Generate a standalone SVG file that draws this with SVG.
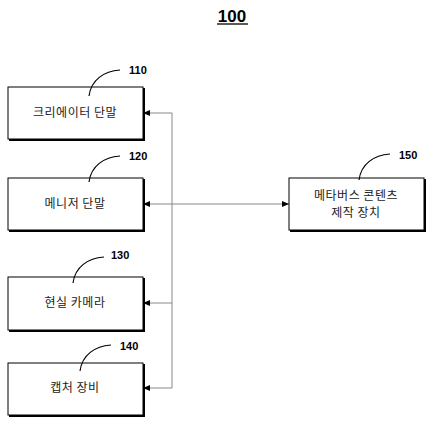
<svg xmlns="http://www.w3.org/2000/svg" width="433" height="425" viewBox="0 0 433 425">
<style>
.box{fill:#fff;stroke:#000;stroke-width:1}
.sh{fill:none;stroke:#000;stroke-width:2}
.t{font-family:"Noto Sans CJK KR","Liberation Serif",serif;font-size:12px;fill:#222;text-anchor:middle;letter-spacing:0.5px}
.n{font-family:"Liberation Sans",Arial,sans-serif;font-weight:bold;font-size:11px;fill:#000}
.ld{fill:none;stroke:#000;stroke-width:1.2}
.c{fill:none;stroke:#888;stroke-width:1}
</style>
<defs>
<marker id="ah" markerWidth="8" markerHeight="6" refX="7" refY="3" orient="auto" markerUnits="userSpaceOnUse">
<path d="M0,0 L7,3 L0,6 Z" fill="#000"/>
</marker>
<marker id="as" markerWidth="8" markerHeight="6" refX="1" refY="3" orient="auto" markerUnits="userSpaceOnUse">
<path d="M8,0 L1,3 L8,6 Z" fill="#000"/>
</marker>
</defs>
<g id="title">
<text x="232" y="22" font-family="Liberation Sans,Arial,sans-serif" font-weight="bold" font-size="17" text-anchor="middle">100</text>
<line x1="217" y1="24" x2="248" y2="24" stroke="#000" stroke-width="1.3"/>
</g>
<g id="connectors">
<polyline class="c" points="143,113 172,113 172,388 143,388" marker-start="url(#as)" marker-end="url(#ah)"/>
<line class="c" x1="172" y1="303" x2="143" y2="303" marker-end="url(#ah)"/>
<line class="c" x1="143" y1="204" x2="289" y2="204" marker-start="url(#as)" marker-end="url(#ah)"/>
</g>
<g id="n110">
<rect class="box" x="8" y="87" width="135" height="52"/>
<polyline class="sh" points="144,88 144,140 9,140"/>
<text class="t" x="75" y="117">크리에이터 단말</text>
<path class="ld" d="M89,96 C91,80 104,71 120,70"/>
<text class="n" x="129" y="74">110</text>
</g>
<g id="n120">
<rect class="box" x="8" y="178" width="135" height="52"/>
<polyline class="sh" points="144,179 144,231 9,231"/>
<text class="t" x="75" y="208">메니저 단말</text>
<path class="ld" d="M89,182 C91,166 104,157 120,156"/>
<text class="n" x="129" y="160">120</text>
</g>
<g id="n130">
<rect class="box" x="8" y="277" width="135" height="53"/>
<polyline class="sh" points="144,278 144,331 9,331"/>
<text class="t" x="75" y="307">현실 카메라</text>
<path class="ld" d="M73,283 C75,267 88,258 104,257"/>
<text class="n" x="111" y="259">130</text>
</g>
<g id="n140">
<rect class="box" x="8" y="363" width="135" height="52"/>
<polyline class="sh" points="144,364 144,416 9,416"/>
<text class="t" x="75" y="392">캡처 장비</text>
<path class="ld" d="M80,371 C82,355 95,346 111,345"/>
<text class="n" x="120" y="350">140</text>
</g>
<g id="n150">
<rect class="box" x="289" y="178" width="135" height="52"/>
<polyline class="sh" points="425,179 425,231 290,231"/>
<text class="t" x="356" y="200">메타버스 콘텐츠</text>
<text class="t" x="356" y="217">제작 장치</text>
<path class="ld" d="M359,180 C361,164 374,155 390,154"/>
<text class="n" x="399" y="159">150</text>
</g>
</svg>
